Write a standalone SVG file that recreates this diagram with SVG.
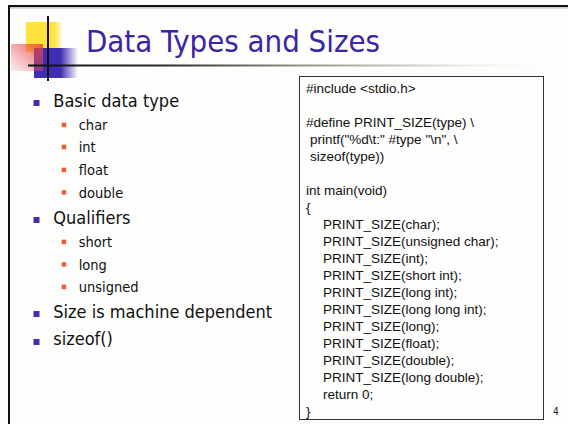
<svg xmlns="http://www.w3.org/2000/svg" width="568" height="424" viewBox="0 0 568 424">
<defs>
<linearGradient id="rule" x1="0" y1="0" x2="1" y2="0">
<stop offset="0" stop-color="#111"/>
<stop offset="0.25" stop-color="#2a2a2a"/>
<stop offset="0.5" stop-color="#8f8f82"/>
<stop offset="0.75" stop-color="#d8d8d0"/>
<stop offset="1" stop-color="#fdfdfb" stop-opacity="0"/>
</linearGradient>
<linearGradient id="yel" x1="0" y1="0" x2="1" y2="0">
<stop offset="0" stop-color="#ffe23a"/>
<stop offset="0.75" stop-color="#ffe23a"/>
<stop offset="1" stop-color="#ffe23a" stop-opacity="0"/>
</linearGradient>
<linearGradient id="blu" x1="0" y1="0" x2="1" y2="0">
<stop offset="0" stop-color="#3f2db4"/>
<stop offset="0.6" stop-color="#3f2db4"/>
<stop offset="1" stop-color="#3f2db4" stop-opacity="0"/>
</linearGradient>
<linearGradient id="red" x1="1" y1="0" x2="0" y2="1">
<stop offset="0" stop-color="#e8402f" stop-opacity="0.85"/>
<stop offset="1" stop-color="#f06080" stop-opacity="0.1"/>
</linearGradient>
<style>
.t{font-family:"DejaVu Sans Condensed","DejaVu Sans",sans-serif;font-stretch:condensed;fill:#111}
.m{font-size:18px}
.s{font-size:14.5px}
.c{font-family:"Liberation Sans",Arial,sans-serif;font-size:13.5px;fill:#111}
.b1{fill:#3f2db4}
.b2{fill:#f25a3a}
</style>
</defs>
<rect x="0" y="0" width="568" height="424" fill="#fdfdfb"/>
<g id="frame">
<rect x="8" y="5" width="560" height="2" fill="#111"/>
<rect x="8" y="7.5" width="560" height="0.8" fill="#999"/>
<rect x="8" y="5" width="2" height="419" fill="#111"/>
</g>
<g id="logo">
<rect x="26" y="22" width="37" height="30" fill="url(#yel)"/>
<rect x="34" y="48" width="44" height="30" fill="url(#blu)"/>
<rect x="11" y="44" width="32" height="27" fill="url(#red)"/>
<rect x="47" y="16" width="2" height="65" fill="#111"/>
<rect x="28" y="64.5" width="532" height="2" fill="url(#rule)"/>
</g>
<g id="title">
<text x="86" y="52" class="t" font-size="30" style="fill:#3b24a6" textLength="294" lengthAdjust="spacingAndGlyphs">Data Types and Sizes</text>
</g>
<g id="bullets">
<rect class="b1" x="33.5" y="100" width="6" height="6"/>
<text class="t m" x="53.3" y="107">Basic data type</text>
<rect class="b2" x="61.7" y="122.7" width="4.5" height="4.5"/>
<text class="t s" x="78.7" y="130">char</text>
<rect class="b2" x="61.7" y="144.7" width="4.5" height="4.5"/>
<text class="t s" x="78.7" y="152">int</text>
<rect class="b2" x="61.7" y="167.7" width="4.5" height="4.5"/>
<text class="t s" x="78.7" y="175">float</text>
<rect class="b2" x="61.7" y="190.2" width="4.5" height="4.5"/>
<text class="t s" x="78.7" y="197.5">double</text>
<rect class="b1" x="33.5" y="217" width="6" height="6"/>
<text class="t m" x="53.3" y="224">Qualifiers</text>
<rect class="b2" x="61.7" y="239.7" width="4.5" height="4.5"/>
<text class="t s" x="78.7" y="247">short</text>
<rect class="b2" x="61.7" y="262.2" width="4.5" height="4.5"/>
<text class="t s" x="78.7" y="269.5">long</text>
<rect class="b2" x="61.7" y="284.7" width="4.5" height="4.5"/>
<text class="t s" x="78.7" y="292">unsigned</text>
<rect class="b1" x="33.5" y="311" width="6" height="6"/>
<text class="t m" x="53.3" y="318">Size is machine dependent</text>
<rect class="b1" x="33.5" y="339" width="6" height="6"/>
<text class="t m" x="53.3" y="345">sizeof()</text>
</g>
<g id="code">
<rect x="299.5" y="76.5" width="244" height="343" fill="none" stroke="#333" stroke-width="1"/>
<text class="c" x="306" y="92.5">#include &lt;stdio.h&gt;</text>
<text class="c" x="306" y="126.5">#define PRINT_SIZE(type) \</text>
<text class="c" x="310" y="143.5">printf("%d\t:" #type "\n", \</text>
<text class="c" x="310" y="160.5">sizeof(type))</text>
<text class="c" x="306" y="194.5">int main(void)</text>
<text class="c" x="306" y="211.5">{</text>
<text class="c" x="323" y="228.5">PRINT_SIZE(char);</text>
<text class="c" x="323" y="245.5">PRINT_SIZE(unsigned char);</text>
<text class="c" x="323" y="262.5">PRINT_SIZE(int);</text>
<text class="c" x="323" y="279.5">PRINT_SIZE(short int);</text>
<text class="c" x="323" y="296.5">PRINT_SIZE(long int);</text>
<text class="c" x="323" y="313.5">PRINT_SIZE(long long int);</text>
<text class="c" x="323" y="330.5">PRINT_SIZE(long);</text>
<text class="c" x="323" y="347.5">PRINT_SIZE(float);</text>
<text class="c" x="323" y="364.5">PRINT_SIZE(double);</text>
<text class="c" x="323" y="381.5">PRINT_SIZE(long double);</text>
<text class="c" x="323" y="398.5">return 0;</text>
<text class="c" x="306" y="415.5">}</text>
</g>
<g id="page-number">
<text class="t" x="553" y="415" font-size="10">4</text>
</g>
</svg>
